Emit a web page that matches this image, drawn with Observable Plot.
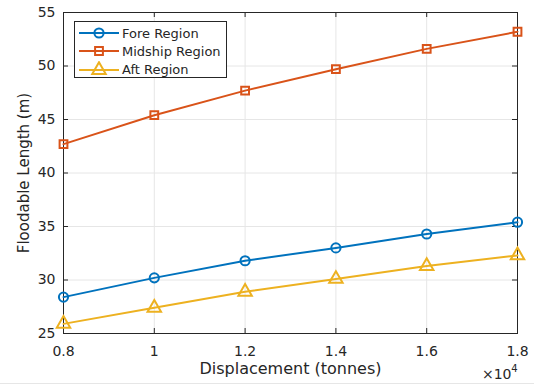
<!DOCTYPE html>
<html>
<head>
<meta charset="utf-8">
<script src="https://cdn.jsdelivr.net/npm/d3@7"></script>
<script src="https://cdn.jsdelivr.net/npm/@observablehq/plot@0.6"></script>
<style>
  html, body { margin: 0; padding: 0; background: #fff; }
  #wrap { position: relative; width: 534px; height: 388px; overflow: hidden; font-family: "DejaVu Sans", sans-serif; }
  #legend { position: absolute; left: 74px; top: 21px; width: 153px; height: 57px; border: 1px solid #262626; background: #fff; box-sizing: border-box; }
  .item { position: absolute; left: 0; height: 18px; display: flex; align-items: center; font-size: 13px; color: #262626; white-space: nowrap; }
  .item svg { display: block; margin-left: 3px; margin-right: 2px; }
  #topcut { position: absolute; left: 0; top: 0; width: 60px; height: 7px; background: #fff; }
  #baseline { position: absolute; left: 0; top: 383px; width: 534px; height: 1px; background: #e6e6e6; }
</style>
</head>
<body>
<div id="wrap"><div id="chart"></div><div id="legend"></div><div id="topcut"></div><div id="baseline"></div></div>
<script>
const displacement = [0.8, 1.0, 1.2, 1.4, 1.6, 1.8]; // ×10^4 tonnes
const fore = [28.4, 30.2, 31.8, 33.0, 34.3, 35.4];
const midship = [42.7, 45.4, 47.7, 49.7, 51.6, 53.2];
const aft = [25.9, 27.4, 28.9, 30.1, 31.3, 32.3];
const seriesNames = ["Fore Region", "Midship Region", "Aft Region"];
const seriesColors = ["#0072BD", "#D95319", "#EDB120"];
const seriesSymbols = ["circle", "square", "triangle"];
const symbolRadius = [4.6, 4.4, 5.0];
const xTicks = [0.8, 1, 1.2, 1.4, 1.6, 1.8];
const yTicks = [25, 30, 35, 40, 45, 50, 55];

const seriesValues = [fore, midship, aft];
const rows = [];
seriesNames.forEach((name, i) => {
  displacement.forEach((x, j) => rows.push({x, y: seriesValues[i][j], series: name}));
});

const W = 534, H = 388, mL = 63, mR = 17, mT = 12, mB = 55;
const innerW = W - mL - mR, innerH = H - mT - mB;
const tickLen = 5;
const ink = "#262626";

const chart = Plot.plot({
  width: W, height: H,
  marginLeft: mL, marginRight: mR, marginTop: mT, marginBottom: mB,
  style: {fontFamily: '"DejaVu Sans", sans-serif', fontSize: "14px", color: ink, background: "#fff", overflow: "visible"},
  x: {domain: [0.8, 1.8]},
  y: {domain: [25, 55]},
  color: {domain: seriesNames, range: seriesColors},
  symbol: {domain: seriesNames, range: seriesSymbols},
  marks: [
    Plot.gridX(xTicks, {stroke: "#e6e6e6", strokeOpacity: 1}),
    Plot.gridY(yTicks, {stroke: "#e6e6e6", strokeOpacity: 1}),
    Plot.tickX(xTicks, {x: d => d, stroke: ink, insetTop: innerH - tickLen}),
    Plot.tickX(xTicks, {x: d => d, stroke: ink, insetBottom: innerH - tickLen}),
    Plot.tickY(yTicks, {y: d => d, stroke: ink, insetRight: innerW - tickLen}),
    Plot.tickY(yTicks, {y: d => d, stroke: ink, insetLeft: innerW - tickLen}),
    Plot.frame({stroke: ink, strokeWidth: 1}),
    Plot.axisX(xTicks, {tickSize: 0, tickPadding: 13, tickFormat: d3.format("~g"), label: null}),
    Plot.axisY(yTicks, {tickSize: 0, tickPadding: 8, label: null}),
    Plot.line(rows, {x: "x", y: "y", z: "series", stroke: "series", strokeWidth: 2}),
    ...seriesNames.map((name, i) =>
      Plot.dot(rows, {filter: d => d.series === name, x: "x", y: "y", stroke: "series", symbol: "series", r: symbolRadius[i], strokeWidth: 2, fill: "none"})
    ),
    Plot.text(["Displacement (tonnes)"], {text: d => d, frameAnchor: "bottom", textAnchor: "middle", dy: 40, fontSize: 16, fill: ink}),
    Plot.text(["Floodable Length (m)"], {text: d => d, frameAnchor: "left", textAnchor: "middle", rotate: -90, dx: -39, fontSize: 15, fill: ink}),
    Plot.text(["×10"], {text: d => d, frameAnchor: "bottom-right", textAnchor: "end", dx: -6, dy: 45, fontSize: 14, fill: ink}),
    Plot.text(["4"], {text: d => d, frameAnchor: "bottom-right", textAnchor: "end", dx: 0, dy: 38, fontSize: 10, fill: ink})
  ]
});
document.getElementById("chart").appendChild(chart);

// Legend
const legend = document.getElementById("legend");
seriesNames.forEach((name, i) => {
  const item = document.createElement("div");
  item.className = "item";
  item.style.top = (2 + i * 18.3) + "px";
  const symType = {circle: d3.symbolCircle, square: d3.symbolSquare, triangle: d3.symbolTriangle}[seriesSymbols[i]];
  const sym = d3.symbol(symType, Math.PI * symbolRadius[i] * symbolRadius[i])();
  item.innerHTML = `<svg width="42" height="18"><line x1="1" x2="41" y1="9" y2="9" stroke="${seriesColors[i]}" stroke-width="2"/><path d="${sym}" transform="translate(21,9)" fill="none" stroke="${seriesColors[i]}" stroke-width="2"/></svg><span>${name}</span>`;
  legend.appendChild(item);
});
</script>
</body>
</html>
